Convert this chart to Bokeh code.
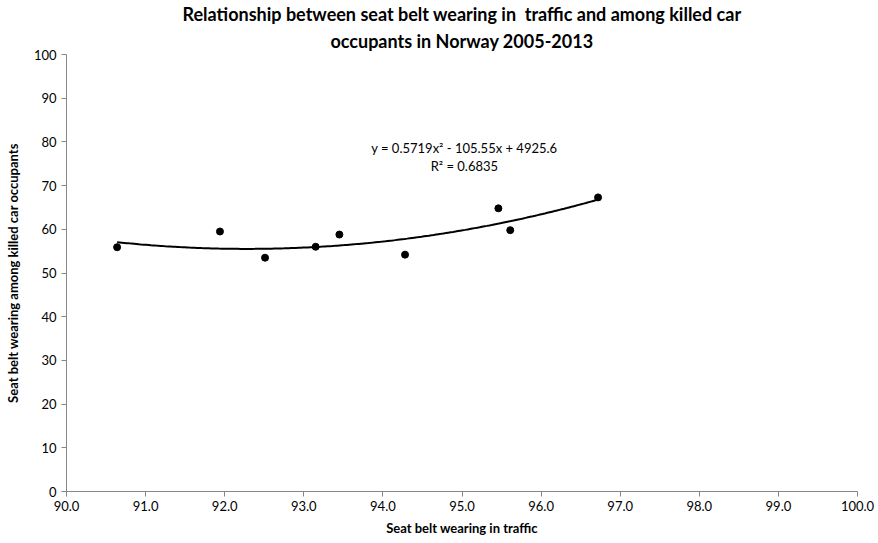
from bokeh.plotting import figure
from bokeh.embed import file_html
from bokeh.resources import INLINE
from bokeh.models import Label, FixedTicker, NumeralTickFormatter, Range1d, Title
import numpy as np

belt_traffic = [90.64, 91.94, 92.51, 93.15, 93.45, 94.28, 95.46, 95.61, 96.72]
belt_killed = [55.9, 59.5, 53.5, 56.0, 58.8, 54.2, 64.8, 59.8, 67.3]
trend_coef = [0.5719, -105.55, 4925.6]
x_ticks = [90, 91, 92, 93, 94, 95, 96, 97, 98, 99, 100]
y_ticks = [0, 10, 20, 30, 40, 50, 60, 70, 80, 90, 100]
title_line1 = "Relationship between seat belt wearing in\u00a0 traffic and among killed car"
title_line2 = "occupants in Norway 2005-2013"
equation_text = "y = 0.5719x\u00b2 - 105.55x + 4925.6"
r2_text = "R\u00b2 = 0.6835"

FONT = "Lato"

p = figure(frame_width=791, frame_height=437, output_backend="svg", toolbar_location=None,
           x_range=Range1d(90, 100), y_range=Range1d(0, 100),
           min_border_left=66, min_border_right=21, min_border_top=54, min_border_bottom=52)

def make_title(txt, standoff):
    return Title(text=txt, align="center", offset=-26, text_font=FONT, text_font_size="18px",
                 text_font_style="bold", text_color="#000000", standoff=standoff)

p.title = make_title(title_line1, 1)
p.add_layout(make_title(title_line2, 5), "above")

p.xgrid.visible = False
p.ygrid.visible = False
p.outline_line_color = None

for ax in (p.xaxis[0], p.yaxis[0]):
    ax.axis_line_color = "#868686"
    ax.major_tick_line_color = "#868686"
    ax.minor_tick_line_color = None
    ax.major_tick_in = 0
    ax.major_tick_out = 5
    ax.major_label_text_font = FONT
    ax.major_label_text_font_size = "13px"
    ax.major_label_text_color = "#000000"
    ax.axis_label_text_font = FONT
    ax.axis_label_text_font_size = "13px"
    ax.axis_label_text_font_style = "bold"
    ax.axis_label_text_color = "#000000"

p.xaxis.ticker = FixedTicker(ticks=x_ticks)
p.yaxis.ticker = FixedTicker(ticks=y_ticks)
p.xaxis.formatter = NumeralTickFormatter(format="0.0")
p.xaxis.axis_label = "Seat belt wearing in traffic"
p.yaxis.axis_label = "Seat belt wearing among killed car occupants"
p.xaxis.major_label_standoff = 4
p.xaxis.axis_label_standoff = 6
p.yaxis.major_label_standoff = 5
p.yaxis.axis_label_standoff = 10

xs = np.linspace(min(belt_traffic), max(belt_traffic), 200)
ys = np.polyval(trend_coef, xs)
p.line(xs, ys, line_color="black", line_width=2)

p.scatter(belt_traffic, belt_killed, size=7, fill_color="black", line_color="black")

p.add_layout(Label(x=95.03, y=78.7, text=equation_text, text_align="center", text_baseline="middle",
                   text_font=FONT, text_font_size="13px", text_color="black"))
p.add_layout(Label(x=95.03, y=74.5, text=r2_text, text_align="center", text_baseline="middle",
                   text_font=FONT, text_font_size="13px", text_color="black"))

open("out.html", "w").write(file_html(p, INLINE))
